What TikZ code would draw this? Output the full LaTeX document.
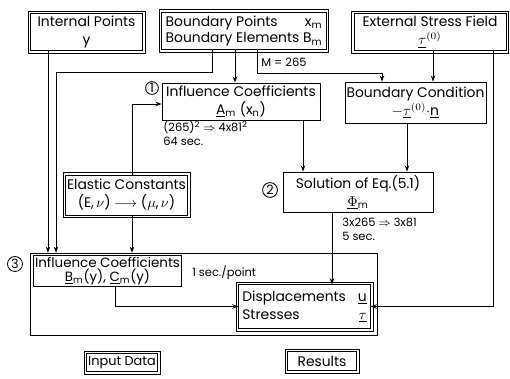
\documentclass[tikz,border=0pt]{standalone}
\usepackage{amsmath,amssymb}
\usepackage{fontspec}
\setmainfont{Poppins}
\usepackage{tikz}
\usetikzlibrary{arrows.meta,positioning}
\tikzset{
  ar/.style={-{Stealth[length=1.5mm,width=1.1mm]},semithick},
  box/.style={draw,semithick,align=center,inner sep=1pt,font=\fontsize{9.7}{12.6}\selectfont},
  dbl/.style={box},
  note/.style={align=left,inner sep=0pt,font=\fontsize{8}{9.5}\selectfont},
  num/.style={draw,circle,semithick,inner sep=0.7pt,font=\fontsize{9}{9}\selectfont}
}
\newcommand{\vt}[1]{\underline{#1}}
\begin{document}
\begin{tikzpicture}[x=0.7pt,y=-0.7pt]
\useasboundingbox (0,0) rectangle (510,378);
% input data
\node[dbl,minimum width=78pt,minimum height=25.5pt] (inp) at (86.5,32) {Internal Points\\ y};
\node[dbl,minimum width=115pt,minimum height=24pt] (bnd) at (244,31)
  {\begin{tabular}{@{}l@{\ }r@{}}Boundary Points & x\textsubscript{m}\\[-1pt] Boundary Elements & B\textsubscript{m}\end{tabular}};
\node[dbl,minimum width=106.5pt,minimum height=25.5pt] (ext) at (430,32) {External Stress Field\\ $\vt{\tau}^{(0)}$};
\node[dbl,minimum width=83.5pt,minimum height=28pt] (ela) at (126.5,195) {Elastic Constants\\ (E,\,$\nu$) $\longrightarrow$ ($\mu$,\,$\nu$)};
% steps
\node[box,minimum width=110.6pt,minimum height=25.9pt] (inf) at (241,101.5) {Influence Coefficients\\ \vt{A}\textsubscript{m} (x\textsubscript{n})};
\node[box,minimum width=98.7pt,minimum height=28.7pt] (bc) at (415.5,102.5) {Boundary Condition\\ $-\vt{\tau}^{(0)}\cdot$\vt{n}};
\node[box,minimum width=105pt,minimum height=28pt] (sol) at (358,192) {Solution of Eq.(5.1)\\ $\vt{\Phi}$\textsubscript{m}};
\node[draw,thin,minimum width=242.9pt,minimum height=57.4pt] (grp) at (203.5,294) {};
\node[box,minimum width=102.9pt,minimum height=19.6pt,font=\fontsize{9.4}{10.2}\selectfont] (inf3) at (107.5,271)
  {Influence Coefficients\\ \vt{B}\textsubscript{m}(y), \vt{C}\textsubscript{m}(y)};
\node[dbl,text width=87pt,inner xsep=2.5pt,minimum height=30.5pt,align=left] (disp) at (304.5,306.5)
  {Displacements\hfill\vt{u}\\ Stresses\hfill$\vt{\tau}$};
\node[num] (c1) at (152,88) {1};
\node[num] (c2) at (270,190) {2};
\node[num] (c3) at (15,264) {3};
% notes
\node[note,anchor=north west] (n1) at (163,121) {(265)\textsuperscript{2} $\Rightarrow$ 4x81\textsuperscript{2}\\ 64 sec.};
\node[note,anchor=north west] (n2) at (342,218) {3x265 $\Rightarrow$ 3x81\\ 5 sec.};
\node[note,anchor=west] (n3) at (192,273) {1 sec./point};
\node[note,anchor=west] (mlab) at (261,62) {M = 265};
% legend
\node[dbl,minimum width=41pt,minimum height=12.5pt,font=\fontsize{9}{10}\selectfont] (lin) at (122,362.5) {Input Data};
\node[dbl,minimum width=48pt,minimum height=13pt] (lres) at (322,361) {Results};
% second frame of the double boxes
\foreach \n in {inp,bnd,ext,ela,disp,lin,lres}
  \draw[thin] ([shift={(-1.5pt,1.5pt)}]\n.north west) rectangle ([shift={(1.5pt,-1.5pt)}]\n.south east);
% connectors
\draw[ar] (inp.south -| 48,0) -- (grp.north -| 48,0);
\draw[ar] (bnd.south -| 212,0) |- (56,72) -- (grp.north -| 56,0);
\draw[ar] (bnd.south -| 235,0) -- (inf.north -| 235,0);
\draw[ar] (bnd.south -| 257,0) |- (382,73) -- (bc.north -| 382,0);
\draw[ar] (ext.south -| 433,0) -- (bc.north -| 433,0);
\draw[ar] (ext.south -| 493,0) |- (disp.east);
\draw[ar] (ela.north -| 132,0) |- (inf.west |- 0,104);
\draw[ar] (ela.south -| 132,0) -- (grp.north -| 132,0);
\draw[ar] (inf.south -| 303,0) -- (sol.north -| 303,0);
\draw[ar] (bc.south -| 407,0) -- (sol.north -| 407,0);
\draw[ar] (sol.south -| 332,0) -- (disp.north -| 332,0);
\draw[ar] (inf3.south -| 115,0) |- (disp.west);
\end{tikzpicture}
\end{document}
